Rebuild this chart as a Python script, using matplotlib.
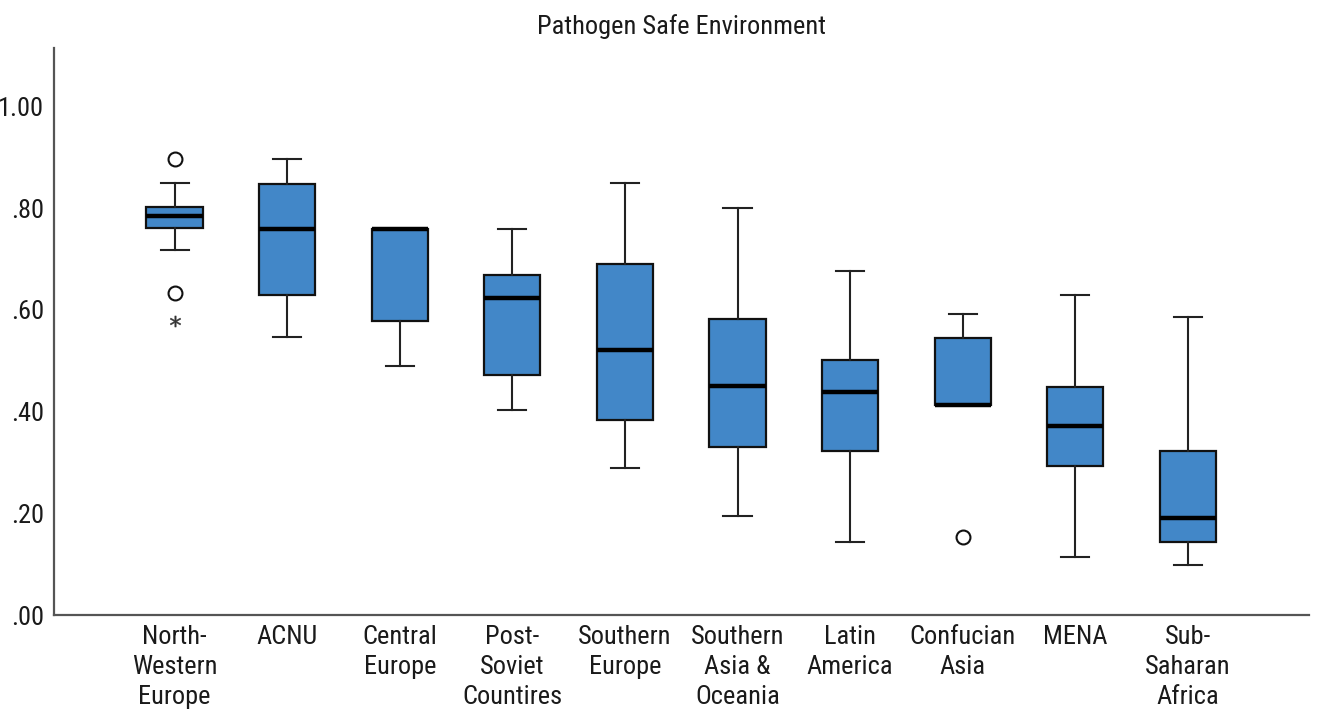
import numpy as np
import matplotlib.pyplot as plt
from matplotlib.ticker import FuncFormatter

categories = ["North-\nWestern\nEurope", "ACNU", "Central\nEurope", "Post-\nSoviet\nCountires",
              "Southern\nEurope", "Southern\nAsia &\nOceania", "Latin\nAmerica", "Confucian\nAsia",
              "MENA", "Sub-\nSaharan\nAfrica"]

# five-number summaries
whisker_low = [0.718, 0.547, 0.490, 0.404, 0.289, 0.195, 0.144, 0.413, 0.114, 0.098]
q1 = [0.762, 0.630, 0.579, 0.472, 0.384, 0.331, 0.323, 0.413, 0.293, 0.144]
median = [0.785, 0.760, 0.760, 0.624, 0.522, 0.451, 0.439, 0.413, 0.372, 0.191]
q3 = [0.803, 0.848, 0.760, 0.669, 0.691, 0.583, 0.502, 0.545, 0.449, 0.323]
whisker_high = [0.850, 0.896, 0.760, 0.760, 0.850, 0.801, 0.677, 0.593, 0.630, 0.587]

# outliers (circles) and extremes (stars)
outliers = [[0.896, 0.634], [], [], [], [], [], [], [0.154], [], []]
extremes = [[0.579], [], [], [], [], [], [], [], [], []]

yticks = [0.0, 0.2, 0.4, 0.6, 0.8, 1.0]

plt.rcParams['font.family'] = ['Roboto Condensed', 'Archivo Narrow', 'Liberation Sans', 'DejaVu Sans']

fig = plt.figure(figsize=(13.2, 7.17), dpi=100)
ax = fig.add_axes([0.041, 0.142, 0.951, 0.791])

stats = []
for i in range(len(categories)):
    stats.append({'whislo': whisker_low[i], 'q1': q1[i], 'med': median[i],
                  'q3': q3[i], 'whishi': whisker_high[i], 'fliers': []})

positions = np.arange(1, len(categories) + 1)
ax.bxp(stats, positions=positions, widths=0.5, capwidths=0.25, patch_artist=True,
       showfliers=False,
       boxprops=dict(facecolor='#4287C8', edgecolor='#111111', linewidth=1.6),
       medianprops=dict(color='black', linewidth=3.2),
       whiskerprops=dict(color='#222222', linewidth=1.5),
       capprops=dict(color='#222222', linewidth=1.5))

for i, pos in enumerate(positions):
    if outliers[i]:
        ax.plot([pos] * len(outliers[i]), outliers[i], 'o', markersize=10,
                markerfacecolor='white', markeredgecolor='#111111', markeredgewidth=1.5)
    if extremes[i]:
        ax.plot([pos] * len(extremes[i]), extremes[i], marker='$*$', linestyle='none',
                markersize=8, color='#333333', markeredgewidth=0.3)

ax.set_xlim(-0.07, 11.08)
ax.set_ylim(0, 1.115)
ax.set_yticks(yticks)
ax.yaxis.set_major_formatter(FuncFormatter(lambda v, p: f"{v:.2f}".lstrip('0') if v < 1 else f"{v:.2f}"))
ax.set_xticks(positions)
ax.set_xticklabels(categories, fontsize=19, color='#1a1a1a', linespacing=1.32)
ax.tick_params(axis='y', length=0, pad=7, labelsize=19, labelcolor='#1a1a1a')
ax.tick_params(axis='x', length=0, pad=7)

for s in ['top', 'right']:
    ax.spines[s].set_visible(False)
for s in ['left', 'bottom']:
    ax.spines[s].set_color('#555555')
    ax.spines[s].set_linewidth(1.6)

ax.set_title("Pathogen Safe Environment", fontsize=19, color='#1a1a1a', pad=10)

fig.savefig("out.png", dpi=100)
